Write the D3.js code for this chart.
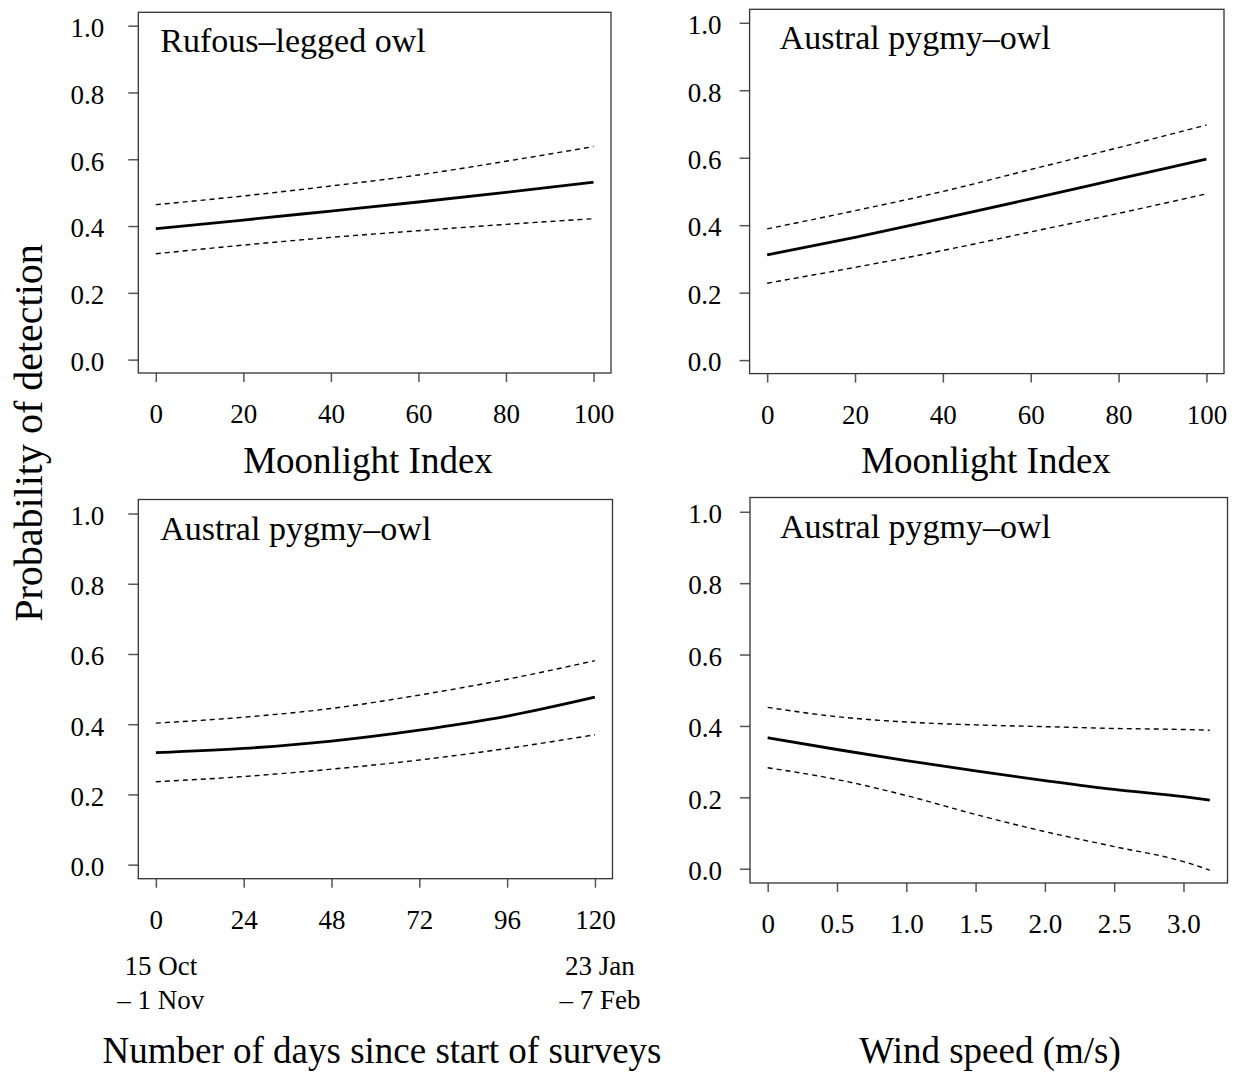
<!DOCTYPE html>
<html>
<head>
    <meta charset="utf-8">
    <title>Probability of detection - owls</title>
    <script src="https://d3js.org/d3.v7.min.js"></script>
    <style>
        body { margin: 0; background: #fff; }
        text { font-family: "Liberation Serif", "Times New Roman", serif; fill: #000; }
    </style>
</head>

<body>
<div id="chart"></div>
<script type="text/javascript">

    // valores (probabilidade de deteccao)
    let moonX = [0, 20, 40, 60, 80, 100];
    let rufousMean  = [0.392, 0.418, 0.445, 0.472, 0.501, 0.531];
    let rufousLower = [0.317, 0.343, 0.366, 0.386, 0.405, 0.422];
    let rufousUpper = [0.464, 0.490, 0.520, 0.553, 0.594, 0.638];

    let pygmyMoonMean  = [0.312, 0.364, 0.420, 0.478, 0.537, 0.596];
    let pygmyMoonLower = [0.228, 0.275, 0.325, 0.380, 0.435, 0.493];
    let pygmyMoonUpper = [0.389, 0.443, 0.500, 0.565, 0.630, 0.697];

    let daysX = [0, 24, 48, 72, 96, 120];
    let pygmyDaysMean  = [0.319, 0.331, 0.352, 0.383, 0.423, 0.477];
    let pygmyDaysLower = [0.236, 0.251, 0.272, 0.298, 0.331, 0.370];
    let pygmyDaysUpper = [0.403, 0.420, 0.445, 0.483, 0.528, 0.581];

    let windX = [0, 0.5, 1.0, 1.5, 2.0, 2.5, 3.0, 3.19];
    let pygmyWindMean  = [0.367, 0.334, 0.303, 0.274, 0.247, 0.222, 0.202, 0.192];
    let pygmyWindLower = [0.283, 0.250, 0.205, 0.152, 0.104, 0.062, 0.020, -0.004];
    let pygmyWindUpper = [0.452, 0.426, 0.411, 0.403, 0.398, 0.393, 0.390, 0.388];

    let yTicks = [0, 0.2, 0.4, 0.6, 0.8, 1.0];
    let moonTicks = [0, 20, 40, 60, 80, 100];
    let dayTicks = [0, 24, 48, 72, 96, 120];
    let windTicks = [0, 0.5, 1.0, 1.5, 2.0, 2.5, 3.0];

    let panels = [
        {title: "Rufous\u2013legged owl", x: moonX, mean: rufousMean, lower: rufousLower, upper: rufousUpper,
         ticks: moonTicks, fmt: d3.format("d")},
        {title: "Austral pygmy\u2013owl", x: moonX, mean: pygmyMoonMean, lower: pygmyMoonLower, upper: pygmyMoonUpper,
         ticks: moonTicks, fmt: d3.format("d")},
        {title: "Austral pygmy\u2013owl", x: daysX, mean: pygmyDaysMean, lower: pygmyDaysLower, upper: pygmyDaysUpper,
         ticks: dayTicks, fmt: d3.format("d")},
        {title: "Austral pygmy\u2013owl", x: windX, mean: pygmyWindMean, lower: pygmyWindLower, upper: pygmyWindUpper,
         ticks: windTicks, fmt: d => d === 0 ? "0" : d3.format(".1f")(d)}
    ];

    // caixas de cada painel (em pixels)
    let boxes = [
        {x0: 138.3, x1: 611,    y0: 12.3,  y1: 373,   pad: 24, tdx: 22},
        {x0: 749.6, x1: 1224,   y0: 9.3,   y1: 373.6, pad: 18, tdx: 30},
        {x0: 138.3, x1: 612.5,  y0: 499.5, y1: 878.7, pad: 24, tdx: 22},
        {x0: 750,   x1: 1227.5, y0: 497.5, y1: 883,   pad: 18, tdx: 30}
    ];

    let W = 1247, H = 1072;
    let serif = "'Liberation Serif', 'Times New Roman', serif";

    let svg = d3.select("#chart")
            .append("svg")
                .attr("width", W)
                .attr("height", H);

    panels.forEach(function(p, i) {
        let b = boxes[i];
        let xmin = d3.min(p.x), xmax = d3.max(p.x);
        let ext = (xmax - xmin) * 0.04;

        let xScale = d3.scaleLinear()
                .domain([xmin - ext, xmax + ext])
                .range([b.x0, b.x1]);

        let yScale = d3.scaleLinear()
                .domain([-0.04, 1.04])
                .range([b.y1, b.y0]);

        let g = svg.append("g");

        // eixo x
        let xAxis = d3.axisBottom(xScale)
                .tickValues(p.ticks)
                .tickFormat(p.fmt)
                .tickSize(9)
                .tickSizeOuter(0)
                .tickPadding(22);

        let gx = g.append("g")
                .attr("transform", "translate(0," + b.y1 + ")")
                .call(xAxis);
        gx.select(".domain").remove();
        gx.selectAll("line").attr("stroke", "#555").attr("stroke-width", 1.5);
        gx.selectAll("text")
                .style("font-family", serif)
                .style("font-size", "27px")
                .attr("fill", "#000");

        // eixo y
        let yAxis = d3.axisLeft(yScale)
                .tickValues(yTicks)
                .tickFormat(d3.format(".1f"))
                .tickSize(10)
                .tickSizeOuter(0)
                .tickPadding(b.pad);

        let gy = g.append("g")
                .attr("transform", "translate(" + b.x0 + ",0)")
                .call(yAxis);
        gy.select(".domain").remove();
        gy.selectAll("line").attr("stroke", "#555").attr("stroke-width", 1.5);
        gy.selectAll("text")
                .attr("dy", "0.4em")
                .style("font-family", serif)
                .style("font-size", "27px")
                .attr("fill", "#000");

        // linhas
        let pts = function(vals) {
            return p.x.map(function(d, k) { return [d, vals[k]]; });
        };
        let line = d3.line()
                .x(function(d) { return xScale(d[0]); })
                .y(function(d) { return yScale(d[1]); })
                .curve(d3.curveMonotoneX);

        [p.lower, p.upper].forEach(function(vals) {
            g.append("path")
                .attr("d", line(pts(vals)))
                .attr("fill", "none")
                .attr("stroke", "#000")
                .attr("stroke-width", 1.4)
                .attr("stroke-dasharray", "5,4");
        });

        g.append("path")
            .attr("d", line(pts(p.mean)))
            .attr("fill", "none")
            .attr("stroke", "#000")
            .attr("stroke-width", 2.8);

        // caixa
        g.append("rect")
            .attr("x", b.x0)
            .attr("y", b.y0)
            .attr("width", b.x1 - b.x0)
            .attr("height", b.y1 - b.y0)
            .attr("fill", "none")
            .attr("stroke", "#333")
            .attr("stroke-width", 1.3);

        // titulo do painel
        g.append("text")
            .attr("x", b.x0 + b.tdx)
            .attr("y", b.y0 + 40)
            .attr("font-size", "34px")
            .text(p.title);
    });

    // titulos dos eixos x
    let xTitles = [
        {text: "Moonlight Index", cx: 368, y: 473},
        {text: "Moonlight Index", cx: 986, y: 473},
        {text: "Number of days since start of surveys", cx: 382, y: 1063},
        {text: "Wind speed (m/s)", cx: 990, y: 1063}
    ];
    xTitles.forEach(function(t) {
        svg.append("text")
            .attr("x", t.cx)
            .attr("y", t.y)
            .attr("text-anchor", "middle")
            .attr("font-size", "37px")
            .text(t.text);
    });

    // datas abaixo do eixo de dias
    let dateLabels = [
        {day: 0, lines: ["15 Oct", "\u2013 1 Nov"]},
        {day: 120, lines: ["23 Jan", "\u2013 7 Feb"]}
    ];
    let dayScale = d3.scaleLinear()
            .domain([-4.8, 124.8])
            .range([boxes[2].x0, boxes[2].x1]);
    dateLabels.forEach(function(d) {
        d.lines.forEach(function(l, k) {
            svg.append("text")
                .attr("x", dayScale(d.day) + 5)
                .attr("y", 975 + k * 34)
                .attr("text-anchor", "middle")
                .attr("font-size", "27px")
                .text(l);
        });
    });

    // titulo eixo vertical
    svg.append("text")
        .attr("transform", "translate(42,433) rotate(-90)")
        .attr("text-anchor", "middle")
        .attr("font-size", "40px")
        .text("Probability of detection");

</script>
</body>
</html>
